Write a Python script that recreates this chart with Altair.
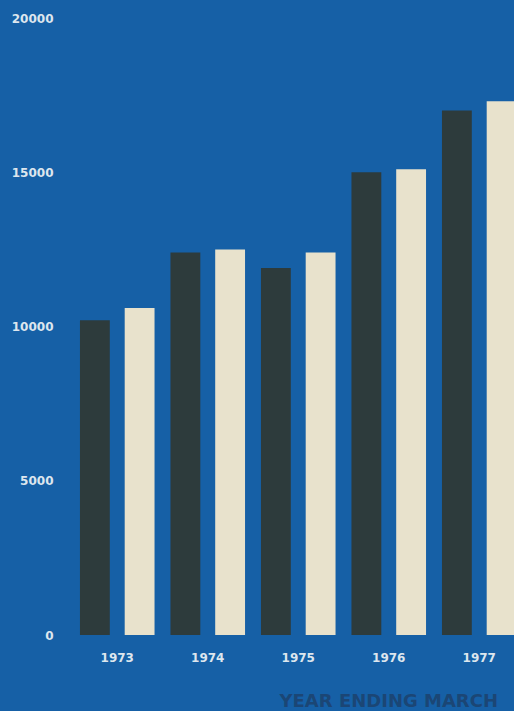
import altair as alt
import pandas as pd

# Annual totals, two series per year (year ending March)
years = ["1973", "1974", "1975", "1976", "1977"]
series = ["first", "second"]
first_values = [10200, 12400, 11900, 15000, 17000]
second_values = [10600, 12500, 12400, 15100, 17300]
y_ticks = [0, 5000, 10000, 15000, 20000]

BG = "#1660a6"
DARK = "#2d3b3c"
CREAM = "#e8e2cc"
LABEL = "#dde6ee"

rows = []
for yr, a, b in zip(years, first_values, second_values):
    rows.append({"year": yr, "series": series[0], "value": a})
    rows.append({"year": yr, "series": series[1], "value": b})
df = pd.DataFrame(rows)

bars = alt.Chart(df).mark_bar(clip=True).encode(
    x=alt.X(
        "year:N",
        sort=years,
        scale=alt.Scale(range=[0, 452.5], paddingInner=0, paddingOuter=0),
        axis=alt.Axis(
            title=None, labelAngle=0, ticks=False, domain=False,
            labelFont="DejaVu Sans", labelFontSize=12, labelFontWeight="bold",
            labelColor=LABEL, labelPadding=17,
        ),
    ),
    xOffset=alt.XOffset(
        "series:N", sort=series,
        scale=alt.Scale(paddingInner=0.333, paddingOuter=0.178),
    ),
    y=alt.Y(
        "value:Q",
        scale=alt.Scale(domain=[0, 20000], nice=False),
        axis=alt.Axis(
            title=None, values=y_ticks, format="d", grid=False, ticks=False,
            domain=False, labelFont="DejaVu Sans", labelFontSize=12,
            labelFontWeight="bold", labelColor=LABEL, labelPadding=19,
            labelFlush=False,
        ),
    ),
    color=alt.Color(
        "series:N", sort=series,
        scale=alt.Scale(domain=series, range=[DARK, CREAM]),
        legend=None,
    ),
)

chart = bars.properties(
    width=442,
    height=617,
    background=BG,
    padding={"left": 72, "top": 18, "right": 0, "bottom": 76},
    autosize=alt.AutoSizeParams(type="none"),
    title=alt.TitleParams(
        text="YEAR ENDING MARCH", orient="bottom", anchor="end",
        frame="group", font="DejaVu Sans", fontSize=18, fontWeight="bold",
        color="#1b4675", offset=30, dx=-16,
    ),
).configure_view(stroke=None)

chart.save("out.html", embed_options={"renderer": "svg", "actions": False})
